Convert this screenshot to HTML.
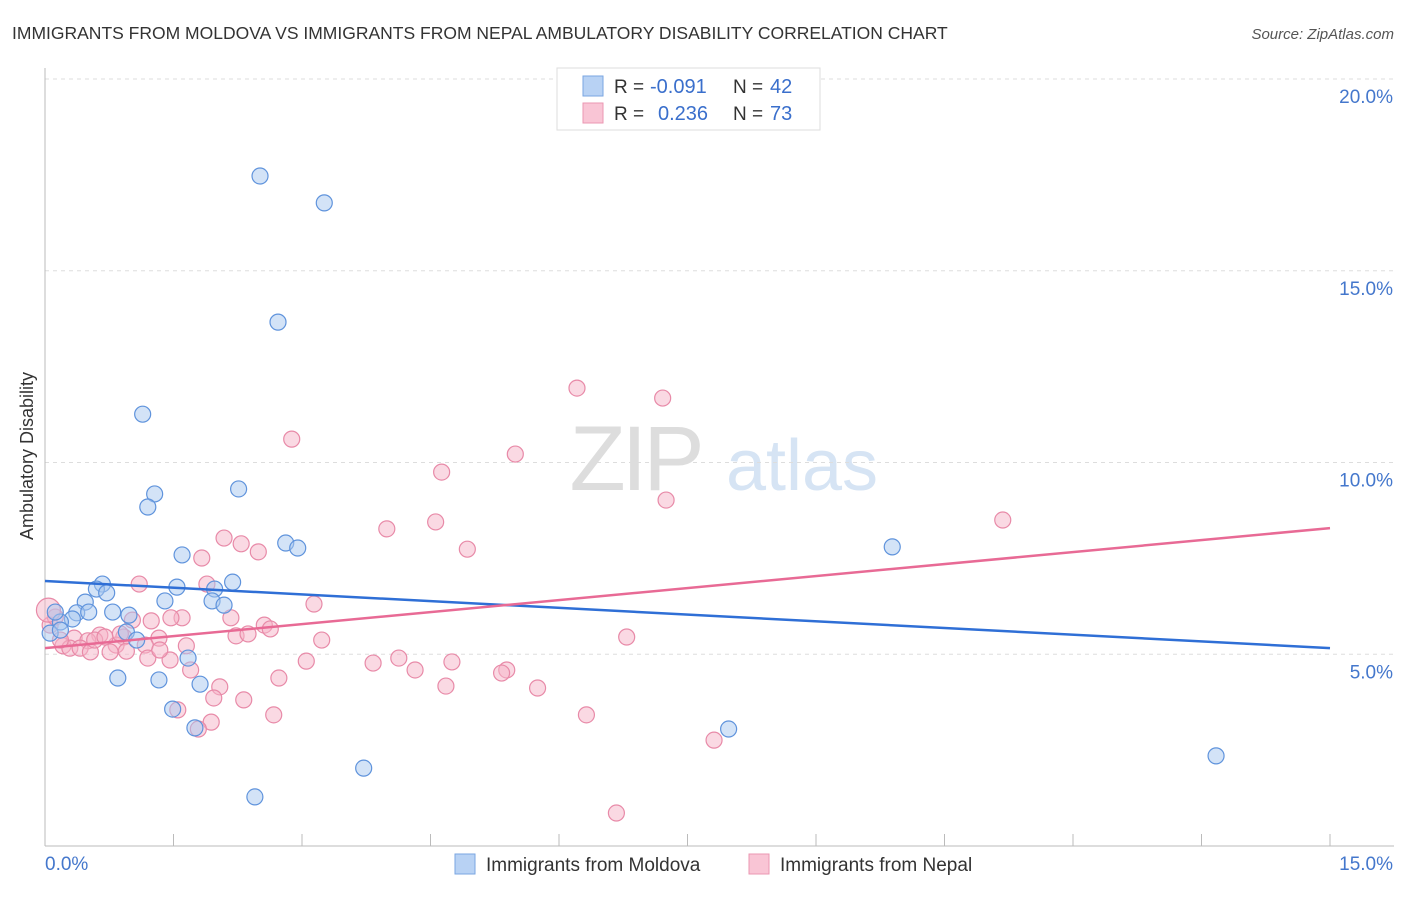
<!DOCTYPE html>
<html><head><meta charset="utf-8"><style>
body{margin:0;background:#fff;font-family:"Liberation Sans",sans-serif;}
svg text{font-family:"Liberation Sans",sans-serif;}
</style></head><body>
<svg id="chart" width="1406" height="892" viewBox="0 0 1406 892" xmlns="http://www.w3.org/2000/svg">
<text x="12" y="39" font-size="17.5" fill="#333">IMMIGRANTS FROM MOLDOVA VS IMMIGRANTS FROM NEPAL AMBULATORY DISABILITY CORRELATION CHART</text>
<text x="1394" y="39" font-size="15" fill="#555" text-anchor="end" font-style="italic">Source: ZipAtlas.com</text>
<g>
<text x="635" y="490" font-size="92" fill="#ddd" text-anchor="middle" font-family="Liberation Serif" letter-spacing="-4">ZIP</text>
<text x="802" y="490" font-size="72" fill="#d6e4f4" text-anchor="middle">atlas</text>
</g>
<g id="grid"></g>
<g id="axes"></g>
<g id="trends"></g>
<g id="points"></g>
<text transform="translate(33,456) rotate(-90)" font-size="18" fill="#333" text-anchor="middle">Ambulatory Disability</text>
<g>
<rect x="557" y="68" width="263" height="62" fill="#fff" stroke="#ddd"/>
<rect x="583" y="76" width="20" height="20" fill="#b8d2f4" stroke="#7aa6e2"/>
<rect x="583" y="103" width="20" height="20" fill="#f9c5d5" stroke="#eb97b2"/>
<text x="614" y="93" font-size="19" fill="#333">R =</text>
<text x="650" y="93" font-size="20" fill="#3a6fcc">-0.091</text>
<text x="733" y="93" font-size="19" fill="#333">N =</text>
<text x="770" y="93" font-size="20" fill="#3a6fcc">42</text>
<text x="614" y="120" font-size="19" fill="#333">R =</text>
<text x="658" y="120" font-size="20" fill="#3a6fcc">0.236</text>
<text x="733" y="120" font-size="19" fill="#333">N =</text>
<text x="770" y="120" font-size="20" fill="#3a6fcc">73</text>
</g>
<g>
<rect x="455" y="854" width="20" height="20" fill="#b8d2f4" stroke="#7aa6e2"/>
<text x="486" y="871" font-size="19" fill="#333">Immigrants from Moldova</text>
<rect x="749" y="854" width="20" height="20" fill="#f9c5d5" stroke="#eb97b2"/>
<text x="780" y="871" font-size="19" fill="#333">Immigrants from Nepal</text>
</g>
</svg>
<script>
const blueX=[2.51,3.26,2.72,1.14,1.28,1.20,2.26,1.60,2.81,2.95,2.19,0.67,0.60,0.72,1.54,1.98,1.40,1.95,2.09,0.47,0.79,0.98,0.37,0.51,0.32,0.18,0.12,0.06,0.18,0.95,1.07,1.67,0.85,1.33,1.81,1.49,1.75,7.98,3.72,2.45,9.89,13.67];
const blueY=[17.47,16.77,13.66,11.26,9.18,8.84,9.31,7.59,7.90,7.77,6.88,6.83,6.70,6.60,6.75,6.70,6.39,6.39,6.28,6.36,6.10,6.02,6.08,6.10,5.92,5.84,6.10,5.55,5.63,5.58,5.37,4.90,4.38,4.33,4.22,3.57,3.08,3.05,2.03,1.28,7.80,2.35];
const pinkX=[6.21,7.21,2.88,5.49,4.63,7.25,3.99,4.56,11.18,2.09,2.29,2.49,4.93,1.83,1.10,1.89,3.14,2.17,2.56,2.63,1.24,1.60,1.47,1.02,2.23,2.37,3.23,1.33,6.79,0.64,0.34,0.50,0.92,0.83,0.21,0.29,0.41,1.17,1.65,0.06,0.12,0.04,0.76,0.95,0.53,1.20,1.46,3.05,4.13,3.83,4.75,5.39,4.32,5.33,1.70,2.73,2.04,4.68,5.75,1.97,2.32,1.55,6.32,2.67,1.94,1.79,7.81,6.67,0.18,0.58,0.70,0.88,1.34];
const pinkY=[11.94,11.68,10.61,10.22,9.75,9.02,8.27,8.45,8.50,8.03,7.88,7.67,7.74,7.51,6.83,6.83,6.31,5.95,5.76,5.66,5.87,5.95,5.95,5.89,5.48,5.53,5.37,5.42,5.45,5.50,5.42,5.35,5.45,5.24,5.22,5.16,5.16,5.24,5.22,5.76,5.97,6.15,5.06,5.08,5.06,4.90,4.85,4.82,4.90,4.77,4.80,4.59,4.59,4.51,4.59,4.38,4.15,4.17,4.12,3.86,3.81,3.55,3.42,3.42,3.23,3.05,2.76,0.86,5.37,5.37,5.45,5.53,5.11];
const blueTrend=[6.91,5.16];
const pinkTrend=[5.16,8.29];
const trendX=[0,15];
const yTicks=[5,10,15,20];
const yTickLabels=["5.0%","10.0%","15.0%","20.0%"];
const xTicks=[0,1.5,3,4.5,6,7.5,9,10.5,12,13.5,15];

const NS="http://www.w3.org/2000/svg";
const sx=v=>45+v/15*1285;
const sy=v=>846-v/20*767;
function mk(tag,attrs,parent){const e=document.createElementNS(NS,tag);for(const k in attrs)e.setAttribute(k,attrs[k]);parent.appendChild(e);return e;}
const grid=document.getElementById('grid'),axes=document.getElementById('axes'),trends=document.getElementById('trends'),pts=document.getElementById('points');
yTicks.forEach((t,i)=>{
  const l=mk('line',{x1:45,x2:1394,y1:sy(t),y2:sy(t),stroke:'#ddd','stroke-dasharray':'4,4'},grid);
  
  
  const tx=mk('text',{x:1393,y:sy(t)+24,'font-size':19,fill:'#4477cc','text-anchor':'end'},axes);
  tx.textContent=yTickLabels[i];
  
  
});
const ax=mk('line',{x1:45,x2:1394,y1:846,y2:846,stroke:'#bbb'},axes);


const ay=mk('line',{x1:45,x2:45,y1:68,y2:846,stroke:'#bbb'},axes);


xTicks.forEach(t=>{
  const l=mk('line',{x1:sx(t),x2:sx(t),y1:834,y2:846,stroke:'#bbb'},axes);
  
  
});
const xl0=mk('text',{x:45,y:870,'font-size':19,fill:'#4477cc'},axes);xl0.textContent='0.0%';


const xl1=mk('text',{x:1393,y:870,'font-size':19,fill:'#4477cc','text-anchor':'end'},axes);xl1.textContent='15.0%';



function dots(X,Y,fill,stroke,name){
  X.forEach((x,i)=>{
    const c=mk('circle',{cx:sx(x),cy:sy(Y[i]),r:i===41&&name==='nepal-point'?12:8,fill:fill,'fill-opacity':0.5,stroke:stroke,'stroke-width':1.2},pts);
    
    
  });
}
dots(pinkX,pinkY,'#f5b3c8','#e88aa8','nepal-point');
dots(blueX,blueY,'#a8c8f0','#5f93dc','moldova-point');
const bt=mk('line',{x1:sx(trendX[0]),y1:sy(blueTrend[0]),x2:sx(trendX[1]),y2:sy(blueTrend[1]),stroke:'#2f6fd6','stroke-width':2.5},trends);


const pt=mk('line',{x1:sx(trendX[0]),y1:sy(pinkTrend[0]),x2:sx(trendX[1]),y2:sy(pinkTrend[1]),stroke:'#e86a95','stroke-width':2.5},trends);


document.getElementById('chart').appendChild(trends);
</script>
</body></html>
